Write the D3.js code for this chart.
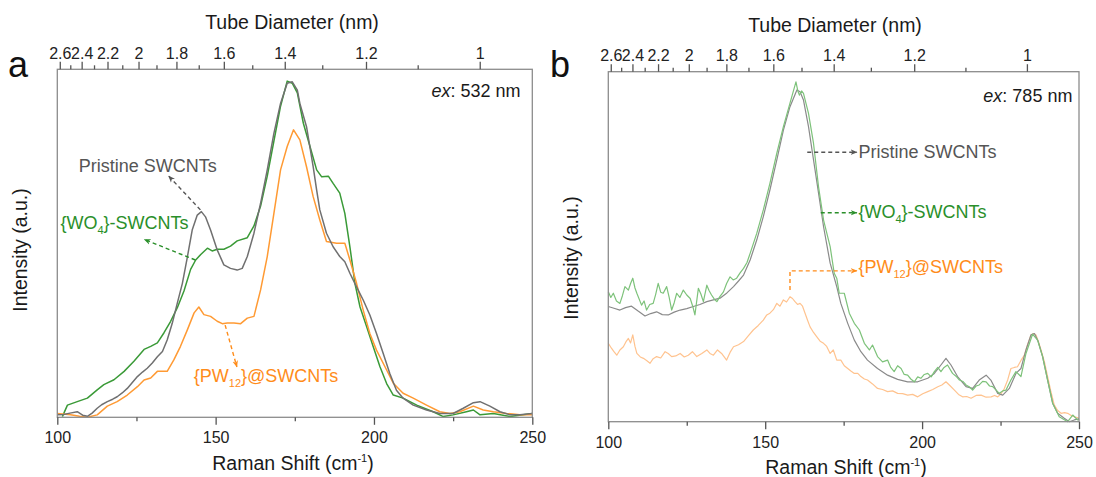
<!DOCTYPE html>
<html><head><meta charset="utf-8">
<script src="https://cdn.jsdelivr.net/npm/d3@7"></script>
<style>
html,body{margin:0;padding:0;background:#fff;}
svg{display:block;font-family:"Liberation Sans",Arial,sans-serif;}
</style></head>
<body>
<svg id="chart" width="1096" height="477"></svg>
<script>
// ---------- data ----------
const shiftTicks = [100, 150, 200, 250];
const shiftMinorTicks = [125, 175, 225];
const diamTicks = [2.6, 2.4, 2.2, 2, 1.8, 1.6, 1.4, 1.2, 1];
const diamMinorTicks = [2.5, 2.3, 2.1, 1.9, 1.7, 1.5, 1.3, 1.1];
// RBM relation used for the top axis: shift = A / d + B
const rbmA = 215.5, rbmB = 17.9;

// Panel a (ex: 532 nm) — [Raman shift, intensity]
const aPristine = [[100,0.7],[102,0.8],[104,1.2],[106.3,1.6],[108,0.6],[109.5,0.3],[111,1.2],[112.6,2.6],[114,3.6],[115.8,4.5],[117.5,5.2],[118.9,5.9],[120.5,7],[122.1,8.3],[123.7,10],[125.3,11.7],[126.9,13],[128.4,14.1],[130,15.6],[131.6,17.4],[133.2,18.9],[134.7,22.2],[136.3,27],[137.9,32.8],[139.5,38.5],[141.1,46.2],[142.6,53.8],[144.2,58.1],[145.5,59.1],[146.8,57.6],[148.4,53.8],[150.5,48.1],[152.6,43.8],[154.7,42.8],[156.8,42.3],[158.4,42.8],[160,46.2],[162.1,52.9],[164.2,61.5],[166.3,71.1],[168.4,81.6],[170.5,90.2],[172.6,96],[174.2,96.4],[175.8,94],[176.6,90.2],[178.7,83.5],[180.8,72],[181.9,65.3],[182.9,59.6],[185,52.9],[187.1,49],[189.2,46.2],[190.8,44.7],[192.4,41.4],[194.5,37.5],[196.6,33.7],[198.7,29.4],[200.8,24.1],[202.9,18.4],[205,12.6],[207.1,7.8],[209.2,5.5],[212.4,3.5],[216.6,2.1],[220.8,1.1],[225,1.1],[228.2,2.6],[231.4,4.2],[233.5,4.5],[236.6,3.2],[239.8,1.6],[243,0.7],[246.1,0.7],[250,1.1]];
const aWO4 = [[101.6,0.2],[103.2,3.5],[106.3,4.5],[109.5,5.5],[112.6,7.9],[114.7,9.4],[117.9,10.8],[121.1,13.2],[124.2,16.1],[127.4,19.5],[129.5,20.4],[131.6,21.4],[133.7,24.3],[135.8,27.6],[137.9,31.5],[140,36.3],[142.1,42.5],[143.7,45.2],[145.3,46.8],[147.4,48.6],[148.9,47.8],[150.5,48.3],[152.6,48.3],[154.7,49.2],[156.8,50.7],[160,51.6],[162.1,55],[164.2,60.7],[166.3,69.3],[168.4,79.4],[170.5,89.4],[172.6,96.6],[174.2,96],[175.8,93.2],[177.7,84.5],[179.8,77.8],[181.9,71.1],[183.5,69.1],[185.6,69.3],[187.1,67.2],[189.2,64.4],[190.8,58.6],[192.4,49],[194,38.4],[195.6,31.7],[197.7,26],[199.8,20.2],[201.9,14.5],[204,9.7],[206.1,6.4],[209.2,5.5],[213.5,3.5],[218.7,1.6],[221.9,0.2],[225,0.7],[229.2,1.6],[231.4,2.1],[233.5,0.7],[237.7,1.1],[243,0.2],[247.1,0.7],[250,1.1]];
const aPW12 = [[100,1.1],[104.2,0.7],[107,0.3],[109.5,0],[112.6,0.7],[115.8,3.2],[118.9,4.5],[122.1,6.4],[125.3,8.8],[127.4,10.7],[129.5,11.3],[131.6,13.2],[134.7,13.2],[136.8,16.5],[138.9,20.4],[141.1,25.2],[143.2,30],[144.7,31.7],[146.3,29.5],[148.4,29],[150.5,27.6],[152.1,26.9],[153.7,27.1],[155.8,27.1],[157.9,26.9],[160,28.5],[162.1,29],[164.2,36.6],[166.3,46.2],[168.4,58.6],[170.5,71.1],[172.6,77.8],[174.6,82.6],[176.6,79.7],[178.7,72],[180.8,63.4],[182.9,56.7],[185,50.5],[188.2,50],[190.8,50],[192.4,45.2],[194.5,38.5],[196.6,30.8],[198.7,24.1],[200.8,19.3],[204,13.6],[206.1,9.8],[209.2,6.9],[212.4,5.5],[216.6,3.5],[220.8,1.6],[224,1.1],[227.1,1.6],[231.4,3.2],[234.5,2.1],[237.7,1.6],[241.9,1.1],[246.1,0.7],[250,0.7]];

// Panel b (ex: 785 nm)
const bPristine = [[100,32.9],[101.8,32.4],[103.7,31.9],[105.5,32.6],[107.4,33],[109.5,31.6],[111.7,30.2],[113.5,30.9],[115.4,31.4],[117.2,30.6],[119.1,30.5],[121,31.3],[122.9,31.9],[125,32.3],[127.1,32.9],[129.2,33.5],[131.4,34.3],[133.5,34.8],[135.6,35.3],[137.8,36.8],[139.9,38.6],[141.5,40.2],[143.1,41.9],[145.2,46.2],[147.3,51.9],[149.4,58.6],[151.5,66.2],[153.7,74.8],[155.8,83.3],[157.9,90],[160.1,94.8],[161.1,94.3],[162.2,91.9],[163.8,84.3],[165.4,74.8],[167,65.3],[168.6,55.7],[170.7,45.3],[172.8,38.6],[174.1,33.8],[176.3,28.1],[178.4,23.3],[180.5,20],[182.6,17.6],[185.8,15.2],[189,13.3],[192.2,12.1],[195.4,11.4],[198.6,11.4],[201.8,12.4],[203.9,13.8],[206,16.2],[207.6,18.1],[209.2,16.2],[211.3,12.9],[214,10],[216.1,9.5],[218.2,11.9],[220.4,13.3],[221.9,11.9],[224.1,8.1],[225.7,7.6],[227.8,9.5],[229.9,13.8],[231.5,15.2],[233.1,20.5],[234.7,24.8],[235.8,25.2],[237,22.9],[238.4,18.6],[240,11.9],[241.6,5.3],[243.2,2.4],[245.3,1],[246.9,0],[248.5,0.5],[250,0.8]];
const bWO4 = [[100,37.1],[100.8,35.5],[101.6,36.7],[102.6,34.5],[103.7,33.8],[104.5,36],[105.3,38.6],[106.4,37.6],[107.1,39.5],[107.8,41],[108.5,38.2],[109.1,36.7],[110.6,33.3],[111.4,34.5],[112.2,31.9],[113.2,33.5],[114.3,33.8],[115.1,36.4],[115.9,39.5],[116.7,37],[117.5,36.7],[118.6,38.6],[119.4,35.5],[120.2,31.9],[121,34],[121.8,36.7],[122.8,35.5],[123.9,37.6],[125,36.2],[126.1,35.2],[126.9,33],[127.6,30.5],[128.7,38.1],[129.5,36.5],[130.3,34.3],[131.4,39],[132.1,37.5],[132.9,36.2],[133.8,35],[134.6,34.3],[135.6,35.8],[136.7,37.1],[137.7,39.5],[138.8,41.4],[139.8,40.5],[140.9,41],[142,42.5],[143.1,43.8],[144.2,45.5],[145.2,48.1],[147.3,53.8],[149.4,60.5],[151.5,68.1],[153.7,76.7],[155.8,84.3],[157.9,91],[159.8,97.1],[160.4,94.5],[160.9,93.3],[161.6,94.5],[162.2,93.8],[163.8,88.1],[165.4,79.5],[167,67.1],[168.6,57.6],[170.7,50],[172,42.4],[172.8,41],[173.6,36.7],[175.2,36.7],[176.8,31],[178.4,28.1],[180,26.2],[181.6,22.4],[183.2,20.5],[184.2,21.9],[185.8,18.6],[187.4,17.1],[189,17.6],[190,15.5],[191.1,14.3],[192.2,16],[193.3,15.2],[194.3,13.5],[195.4,13.3],[196.4,12.2],[197.5,11.4],[198.6,12.8],[199.6,12.4],[200.7,13.5],[201.8,13.8],[202.9,12.8],[203.9,14.3],[205,15.5],[206,14.3],[207,15.5],[208.1,16.2],[209.7,13.8],[210.8,13],[211.9,11.9],[213,11.5],[214,10.5],[215,10],[216.1,9],[217.2,10.2],[218.2,10.5],[219.3,11.5],[220.4,11.4],[221.5,10.2],[222.5,10],[223.6,9],[224.6,8.1],[225.7,8.8],[226.7,9],[228.3,11.9],[229.9,14.3],[231.5,12.9],[233.1,19.5],[235.2,25],[236.8,23.3],[238.4,18.6],[240,11.9],[241.6,5.3],[243.7,1.4],[246.4,0],[248,1.9],[249.6,0.5],[250,0.8]];
const bPW12 = [[100,22.4],[101,21],[101.8,20],[102.7,19],[103.7,20.5],[104.8,21.4],[105.6,22.8],[106.4,23.8],[107.1,22.5],[107.8,24.8],[108.5,21.5],[109.1,19.5],[110.2,18.5],[111.2,18.1],[112.2,17.5],[113.3,16.7],[114.3,18],[115.4,18.6],[116.7,18.2],[118.1,20],[119.1,19.5],[120.2,18.6],[121.5,18.8],[122.9,19.5],[124.2,18.5],[125.5,19],[126.8,20],[128.2,18.6],[129.8,19.5],[131.4,20.5],[132.4,19.5],[133.5,19],[134.8,20.5],[136.1,19.5],[137.7,17.6],[138.8,19.8],[139.9,21.4],[141.5,22],[143.1,22.9],[144.6,24.5],[146.2,26.2],[147.8,27.5],[149.4,29],[150.5,30.5],[151.5,31],[152.6,32],[153.7,33.8],[154.7,33],[155.8,34.8],[156.8,34.2],[157.9,35.7],[158.7,35.2],[159.5,34.3],[160.3,33.5],[161.1,33.8],[161.9,33],[162.7,31],[163.5,29],[164.3,27.1],[165.4,25.5],[166.4,24.3],[167.5,23],[168.6,22.4],[169.6,21.5],[170.7,19.5],[171.7,20.5],[172.8,17.6],[174.1,17.6],[175.2,16],[176.3,15.2],[177.3,14.5],[178.4,13.8],[179.5,13.8],[180.5,12.9],[181.6,12.2],[182.6,11.9],[184.2,10.8],[185.8,9.5],[187.4,9.2],[189,8.6],[190.6,8.8],[192.2,8.1],[193.8,8],[195.4,7.6],[197,7.8],[198.6,7.1],[200.2,8],[201.8,8.6],[203.4,9.2],[205,10],[206.3,10.5],[207.6,11.4],[209,10.2],[210.3,9],[211.6,7.8],[212.9,7.1],[214.2,7.2],[215.6,6.7],[217.2,7.5],[218.8,7.6],[220.4,7],[222,7.1],[223.1,7.5],[224.1,7.1],[225.2,8],[226.2,9.5],[227.3,12],[228.3,15.2],[229.4,15.5],[230.4,15.7],[231.5,17.5],[232.6,19],[233.6,22],[234.7,24.8],[235.5,25.2],[236.3,24.8],[237.1,22.8],[237.9,20.5],[239,17],[240,12.9],[241,8.8],[242.1,4.8],[243.2,3.2],[244.3,2.4],[245.4,2.6],[246.4,2.4],[247.5,1.8],[248.5,1.4],[249.5,1.2],[250,1]];

// ---------- drawing ----------
const svg = d3.select("#chart");
const FONT = '"Liberation Sans", Arial, sans-serif';

const panels = [
  { letter: "a", ex: "532 nm", box: {l:57.3, r:532.3, t:69.3, b:417.3},
    letterPos: [8, 77], titleTop: [292, 29], titleBottom: [293, 470], yLab: [27, 250],
    series: [
      {data: aWO4, color: "#3a9a37", width: 1.5},
      {data: aPW12, color: "#ff9a33", width: 1.5},
      {data: aPristine, color: "#707070", width: 1.5}
    ],
    exPos: [246.3, 92.1],
    notes: [
      {kind:"arrow", color:"#555", pts:[[145.2,59.6],[135.2,69.3]]},
      {kind:"arrow", color:"#2a8f2a", pts:[[143.6,45.2],[127.5,51.1]]},
      {kind:"arrow", color:"#ff8c1a", pts:[[153.0,26.5],[156.7,14.5]]},
      {kind:"text", color:"#555", at:[106.8,70.6], parts:[["Pristine SWCNTs"]]},
      {kind:"text", color:"#2a8f2a", at:[101.0,54.0], parts:[["{WO"],["4","sub"],["}-SWCNTs"]]},
      {kind:"text", color:"#ff8c1a", at:[143.1,10.2], parts:[["{PW"],["12","sub"],["}@SWCNTs"]]}
    ]},
  { letter: "b", ex: "785 nm", box: {l:608.3, r:1079, t:71.7, b:421.7},
    letterPos: [550, 77], titleTop: [835, 31.5], titleBottom: [846, 474], yLab: [578, 258],
    series: [
      {data: bPW12, color: "#ffc38f", width: 1.2},
      {data: bPristine, color: "#8a8a8a", width: 1.2},
      {data: bWO4, color: "#7dc27a", width: 1.2}
    ],
    exPos: [247.9, 91.4],
    notes: [
      {kind:"arrow", color:"#555", pts:[[163.4,77.0],[179.2,77.0]]},
      {kind:"arrow", color:"#2a8f2a", pts:[[167.7,59.7],[179.2,59.7]]},
      {kind:"arrow", color:"#ff8c1a", pts:[[157.9,37.6],[157.9,43.1],[179.2,43.1]]},
      {kind:"text", color:"#555", at:[179.7,75.3], parts:[["Pristine SWCNTs"]]},
      {kind:"text", color:"#2a8f2a", at:[179.7,58.1], parts:[["{WO"],["4","sub"],["}-SWCNTs"]]},
      {kind:"text", color:"#ff8c1a", at:[179.7,42.4], parts:[["{PW"],["12","sub"],["}@SWCNTs"]]}
    ]}
];

const defs = svg.append("defs");
function marker(id, color){
  defs.append("marker").attr("id", id).attr("viewBox","0 0 10 10")
    .attr("refX", 9).attr("refY", 5).attr("markerWidth", 7).attr("markerHeight", 7)
    .attr("markerUnits","userSpaceOnUse").attr("orient","auto")
    .append("path").attr("d","M0,1 L10,5 L0,9 L3,5 Z").attr("fill", color);
}

panels.forEach((p, pi) => {
  const B = p.box;
  const x = d3.scaleLinear().domain([100, 250]).range([B.l, B.r]);
  const y = d3.scaleLinear().domain([0, 100]).range([B.b, B.t]);
  // diameter axis: shift = A/d + B -> position linear in 1/d
  const dAt100 = rbmA / (100 - rbmB), dAt250 = rbmA / (250 - rbmB);
  const xd = d3.scalePow().exponent(-1).domain([dAt100, dAt250]).range([B.l, B.r]);

  const g = svg.append("g");

  // curves
  const line = d3.line().x(d => x(d[0])).y(d => y(d[1]));
  p.series.forEach(s => {
    g.append("path").datum(s.data).attr("d", line)
      .attr("fill","none").attr("stroke", s.color).attr("stroke-width", s.width)
      .attr("stroke-linejoin","round");
  });

  // frame
  g.append("rect").attr("x", B.l).attr("y", B.t).attr("width", B.r - B.l).attr("height", B.b - B.t)
    .attr("fill","none").attr("stroke","#8c8c8c").attr("stroke-width",1.3);

  // bottom axis
  const bx = g.append("g").attr("transform", `translate(0,${B.b})`)
    .call(d3.axisBottom(x).tickValues(shiftTicks).tickSize(7.5).tickPadding(7).tickFormat(d3.format("d")));
  const bxm = g.append("g").attr("transform", `translate(0,${B.b})`)
    .call(d3.axisBottom(x).tickValues(shiftMinorTicks).tickSize(4).tickFormat(""));
  // top axis
  const tx = g.append("g").attr("transform", `translate(0,${B.t})`)
    .call(d3.axisTop(xd).tickValues(diamTicks).tickSize(7.5).tickPadding(3).tickFormat(d => String(d)));
  const txm = g.append("g").attr("transform", `translate(0,${B.t})`)
    .call(d3.axisTop(xd).tickValues(diamMinorTicks).tickSize(4).tickFormat(""));
  [bx, bxm, tx, txm].forEach(a => {
    a.select(".domain").remove();
    a.selectAll(".tick line").attr("stroke","#555").attr("stroke-width",1.3);
    a.selectAll(".tick text").attr("fill","#222").style("font-family", FONT).style("font-size","16px");
  });

  // titles
  g.append("text").attr("x", p.titleTop[0]).attr("y", p.titleTop[1]).attr("text-anchor","middle")
    .attr("fill","#1a1a1a").style("font-family",FONT).style("font-size","19.5px").text("Tube Diameter (nm)");
  const bt = g.append("text").attr("x", p.titleBottom[0]).attr("y", p.titleBottom[1]).attr("text-anchor","middle")
    .attr("fill","#1a1a1a").style("font-family",FONT).style("font-size","19.5px");
  bt.append("tspan").text("Raman Shift (cm");
  bt.append("tspan").attr("dy",-8).style("font-size","11px").text("-1");
  bt.append("tspan").attr("dy",8).text(")");
  g.append("text").attr("transform", `translate(${p.yLab[0]},${p.yLab[1]}) rotate(-90)`).attr("text-anchor","middle")
    .attr("fill","#1a1a1a").style("font-family",FONT).style("font-size","19.5px").text("Intensity (a.u.)");
  g.append("text").attr("x", p.letterPos[0]).attr("y", p.letterPos[1])
    .attr("fill","#111").style("font-family",FONT).style("font-size","36px").text(p.letter);

  // ex label
  const ex = g.append("text").attr("x", x(p.exPos[0])).attr("y", y(p.exPos[1])).attr("text-anchor","end")
    .attr("fill","#1a1a1a").style("font-family",FONT).style("font-size","18px");
  ex.append("tspan").style("font-style","italic").text("ex");
  ex.append("tspan").text(": " + p.ex);

  // annotations
  p.notes.forEach((n, ni) => {
    if (n.kind === "arrow") {
      const id = `m${pi}_${ni}`;
      marker(id, n.color);
      g.append("path").datum(n.pts).attr("d", d3.line().x(d => x(d[0])).y(d => y(d[1])))
        .attr("fill","none").attr("stroke", n.color).attr("stroke-width",1.4)
        .attr("stroke-dasharray","4,3").attr("marker-end", `url(#${id})`);
    } else {
      const t = g.append("text").attr("x", x(n.at[0])).attr("y", y(n.at[1]))
        .attr("fill", n.color).style("font-family",FONT).style("font-size","18px");
      let shifted = false;
      n.parts.forEach(pt => {
        const ts = t.append("tspan").text(pt[0]);
        if (pt[1] === "sub") { ts.attr("dy", 5).style("font-size","11px"); shifted = true; }
        else if (shifted) { ts.attr("dy", -5); shifted = false; }
      });
    }
  });
});
</script>
</body></html>
